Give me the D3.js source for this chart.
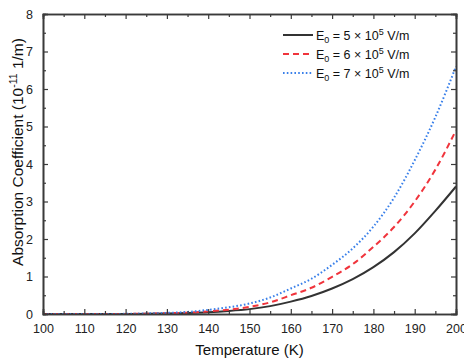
<!DOCTYPE html>
<html>
<head>
<meta charset="utf-8">
<script src="https://cdn.jsdelivr.net/npm/d3@7"></script>
<style>
  body { margin: 0; background: #fff; }
  svg { display: block; font-family: "Liberation Sans", Arial, sans-serif; }
</style>
</head>
<body>
<div id="chart"></div>
<script>
// temperatures (K)
const temps = [100, 105, 110, 115, 120, 125, 130, 135, 140, 145, 150, 155, 160, 165, 170, 175, 180, 185, 190, 195, 200];
// absorption coefficient, 10^-11 1/m
const e5 = [0, 0, 0, 0, 0.001, 0.005, 0.012, 0.025, 0.045, 0.08, 0.13, 0.21, 0.33, 0.48, 0.68, 0.93, 1.25, 1.65, 2.15, 2.75, 3.4];
const e6 = [0, 0, 0, 0, 0.002, 0.008, 0.02, 0.035, 0.07, 0.115, 0.19, 0.31, 0.5, 0.7, 0.99, 1.33, 1.79, 2.32, 3.0, 3.85, 4.9];
const e7 = [0, 0, 0, 0.001, 0.004, 0.015, 0.03, 0.055, 0.11, 0.18, 0.28, 0.44, 0.68, 0.94, 1.31, 1.75, 2.33, 3.1, 4.1, 5.25, 6.6];
const seriesNames = ['5', '6', '7'];
const xTicks = d3.range(100, 201, 10);
const yTicks = d3.range(0, 9, 1);

const width = 464, height = 358;
const margin = { top: 14, right: 8, bottom: 44, left: 43 };

const svg = d3.select('#chart')
    .append('svg')
    .attr('width', width)
    .attr('height', height);

const x = d3.scaleLinear()
    .domain([100, 200])
    .range([margin.left, width - margin.right]);

const y = d3.scaleLinear()
    .domain([0, 8])
    .range([height - margin.bottom, margin.top]);

const axisColor = '#3a3a3a';

const series = [
    { name: seriesNames[0], values: e5, color: '#333333', dash: null },
    { name: seriesNames[1], values: e6, color: '#f0343c', dash: '6,4' },
    { name: seriesNames[2], values: e7, color: '#3a80ea', dash: '1.6,2.2' }
];

const line = d3.line()
    .x((d, i) => x(temps[i]))
    .y(d => y(d))
    .curve(d3.curveMonotoneX);

// curves
svg.append('g')
    .selectAll('path')
    .data(series)
    .join('path')
    .attr('fill', 'none')
    .attr('stroke', d => d.color)
    .attr('stroke-width', 2)
    .attr('stroke-dasharray', d => d.dash)
    .attr('d', d => line(d.values));

// axes, ticks pointing inward
const styleAxis = g => {
    g.selectAll('.domain').attr('stroke', axisColor).attr('stroke-width', 1.6);
    g.selectAll('.tick line').attr('stroke', axisColor).attr('stroke-width', 1.2);
    g.selectAll('.tick text').attr('fill', '#222').style('font-size', '12.5px');
};

const xMinor = d3.range(105, 200, 10);
const yMinor = d3.range(0.5, 8, 1);

svg.append('g')
    .attr('transform', `translate(0,${y(0)})`)
    .call(d3.axisBottom(x).tickValues(xMinor).tickSize(-3).tickFormat(''))
    .call(styleAxis);
svg.append('g')
    .attr('transform', `translate(0,${y(0)})`)
    .call(d3.axisBottom(x).tickValues(xTicks).tickSize(-5).tickPadding(10).tickFormat(d3.format('d')))
    .call(styleAxis);

svg.append('g')
    .attr('transform', `translate(0,${y(8)})`)
    .call(d3.axisTop(x).tickValues(xMinor).tickSize(-3).tickFormat(''))
    .call(styleAxis);
svg.append('g')
    .attr('transform', `translate(0,${y(8)})`)
    .call(d3.axisTop(x).tickValues(xTicks).tickSize(-5).tickFormat(''))
    .call(styleAxis);

svg.append('g')
    .attr('transform', `translate(${x(100)},0)`)
    .call(d3.axisLeft(y).tickValues(yMinor).tickSize(-3).tickFormat(''))
    .call(styleAxis);
svg.append('g')
    .attr('transform', `translate(${x(100)},0)`)
    .call(d3.axisLeft(y).tickValues(yTicks).tickSize(-5).tickPadding(10).tickFormat(d3.format('d')))
    .call(styleAxis);

svg.append('g')
    .attr('transform', `translate(${x(200)},0)`)
    .call(d3.axisRight(y).tickValues(yMinor).tickSize(-3).tickFormat(''))
    .call(styleAxis);
svg.append('g')
    .attr('transform', `translate(${x(200)},0)`)
    .call(d3.axisRight(y).tickValues(yTicks).tickSize(-5).tickFormat(''))
    .call(styleAxis);

// axis titles
svg.append('text')
    .attr('x', (x(100) + x(200)) / 2)
    .attr('y', 355)
    .attr('text-anchor', 'middle')
    .attr('fill', '#111')
    .style('font-size', '15px')
    .text('Temperature (K)');

const yTitle = svg.append('text')
    .attr('transform', 'translate(23,152) rotate(-90)')
    .attr('text-anchor', 'middle')
    .attr('fill', '#111')
    .style('font-size', '15.5px');
yTitle.append('tspan').text('Absorption Coefficient (10');
yTitle.append('tspan').attr('dy', -6).style('font-size', '10.5px').text('-11');
yTitle.append('tspan').attr('dy', 6).text(' 1/m)');

// legend
const legend = svg.append('g')
    .selectAll('g')
    .data(series)
    .join('g')
    .attr('transform', (d, i) => `translate(283,${35 + i * 19})`);

legend.append('line')
    .attr('x1', 0).attr('x2', 30)
    .attr('stroke', d => d.color)
    .attr('stroke-width', 2)
    .attr('stroke-dasharray', d => d.dash);

const lt = legend.append('text')
    .attr('x', 33)
    .attr('y', 4.5)
    .attr('fill', '#111')
    .style('font-size', '12.5px');
lt.append('tspan').text('E');
lt.append('tspan').attr('dy', 3).style('font-size', '9px').text('0');
lt.append('tspan').attr('dy', -3).text(d => ` = ${d.name} \u00d7 10`);
lt.append('tspan').attr('dy', -5).style('font-size', '9px').text('5');
lt.append('tspan').attr('dy', 5).text(' V/m');
</script>
</body>
</html>
